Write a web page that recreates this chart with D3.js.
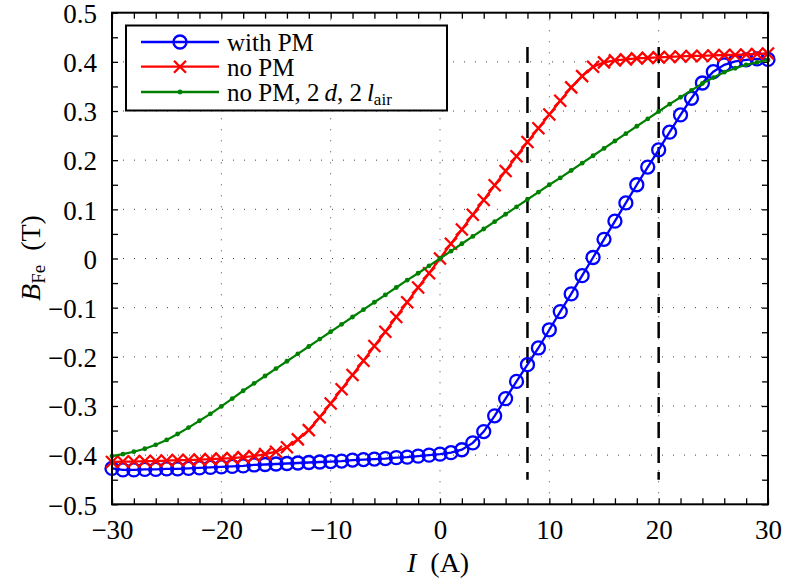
<!DOCTYPE html>
<html>
<head>
<meta charset="utf-8">
<script src="https://cdn.jsdelivr.net/npm/d3@7"></script>
<style>
  html, body { margin: 0; padding: 0; background: #fff; }
  svg { display: block; }
  svg text { font-family: "Liberation Serif", "DejaVu Serif", serif; fill: #000; }
</style>
</head>
<body>
<svg id="chart" width="785" height="587"></svg>
<script>
// ---------------- data ----------------
const current = d3.range(-30, 31, 1); // I (A), step 1
const withPM = [
  -0.427, -0.430, -0.430, -0.429, -0.429, -0.428, -0.428, -0.427, -0.426, -0.425,
  -0.424, -0.423, -0.422, -0.420, -0.419, -0.418, -0.417, -0.416, -0.415, -0.414,
  -0.413, -0.412, -0.410, -0.409, -0.408, -0.407, -0.405, -0.404, -0.402, -0.400,
  -0.398, -0.395, -0.389, -0.375, -0.352, -0.320, -0.285, -0.250, -0.216, -0.182,
  -0.145, -0.108, -0.072, -0.035, 0.002, 0.039, 0.076, 0.113, 0.150, 0.186,
  0.221, 0.257, 0.292, 0.326, 0.357, 0.380, 0.394, 0.401, 0.404, 0.406, 0.405
];
const noPM = [
  -0.414, -0.413, -0.413, -0.412, -0.412, -0.411, -0.410, -0.410, -0.409, -0.408,
  -0.407, -0.406, -0.404, -0.402, -0.398, -0.393, -0.384, -0.368, -0.349, -0.323,
  -0.295, -0.266, -0.237, -0.208, -0.178, -0.149, -0.119, -0.089, -0.059, -0.030,
  0.000, 0.030, 0.059, 0.089, 0.119, 0.149, 0.178, 0.208, 0.237, 0.265, 0.293,
  0.321, 0.348, 0.371, 0.390, 0.399, 0.403, 0.405, 0.407, 0.408, 0.409,
  0.410, 0.411, 0.412, 0.412, 0.413, 0.414, 0.414, 0.415, 0.416, 0.417
];
const noPM2d = [
  -0.402, -0.398, -0.393, -0.387, -0.379, -0.369, -0.357, -0.344, -0.330, -0.316,
  -0.301, -0.285, -0.269, -0.254, -0.239, -0.224, -0.209, -0.194, -0.179, -0.164,
  -0.149, -0.134, -0.119, -0.104, -0.089, -0.074, -0.059, -0.044, -0.030, -0.015,
  0.000, 0.015, 0.030, 0.045, 0.060, 0.075, 0.090, 0.105, 0.120, 0.135, 0.150,
  0.164, 0.179, 0.194, 0.209, 0.224, 0.239, 0.254, 0.269, 0.284, 0.299,
  0.314, 0.328, 0.342, 0.356, 0.368, 0.379, 0.387, 0.394, 0.399, 0.404
];
const dashLinesX = [8, 20];
const dashRange = [-0.45, 0.43];
const xTicks = [-30, -20, -10, 0, 10, 20, 30];
const xTickLabels = ["\u221230", "\u221220", "\u221210", "0", "10", "20", "30"];
const xMinorTicks = d3.range(-30, 31, 2);
const yTicks = [-0.5, -0.4, -0.3, -0.2, -0.1, 0, 0.1, 0.2, 0.3, 0.4, 0.5];
const yTickLabels = ["\u22120.5", "\u22120.4", "\u22120.3", "\u22120.2", "\u22120.1", "0", "0.1", "0.2", "0.3", "0.4", "0.5"];
const yMinorTicks = d3.range(-10, 11, 1).map(d => d * 0.05);
const seriesNames = ["with PM", "no PM", "no PM, 2 d, 2 l_air"];

// ---------------- layout ----------------
const svg = d3.select("#chart");
const L = 112, R = 768, T = 12.7, B = 504.3;
const x = d3.scaleLinear().domain([-30, 30]).range([L, R]);
const y = d3.scaleLinear().domain([-0.5, 0.5]).range([B, T]);
const FS = 27;

// grid
const grid = svg.append("g").attr("stroke", "#444").attr("stroke-width", 1)
  .attr("stroke-dasharray", "1,10");
grid.selectAll("line.v").data(xTicks.slice(1, -1)).join("line")
  .attr("x1", d => x(d)).attr("x2", d => x(d)).attr("y1", B).attr("y2", T);
grid.selectAll("line.h").data(yTicks.slice(1, -1)).join("line")
  .attr("class", "h")
  .attr("y1", d => y(d)).attr("y2", d => y(d)).attr("x1", L).attr("x2", R);

// dashed vertical lines
svg.append("g").selectAll("line").data(dashLinesX).join("line")
  .attr("x1", d => x(d)).attr("x2", d => x(d))
  .attr("y1", y(dashRange[1])).attr("y2", y(dashRange[0]))
  .attr("stroke", "#000").attr("stroke-width", 2.5)
  .attr("stroke-dasharray", "16,9");

// axes ticks (inward, all four sides)
function tickAxis(gen, tr) {
  const g = svg.append("g").attr("transform", tr).call(gen);
  g.select(".domain").remove();
  g.selectAll("line").attr("stroke", "#000").attr("stroke-width", 1.3);
  return g;
}
tickAxis(d3.axisBottom(x).tickValues(xMinorTicks).tickSize(-6).tickFormat(""), `translate(0,${B})`);
tickAxis(d3.axisTop(x).tickValues(xMinorTicks).tickSize(-6).tickFormat(""), `translate(0,${T})`);
tickAxis(d3.axisLeft(y).tickValues(yMinorTicks).tickSize(-6).tickFormat(""), `translate(${L},0)`);
tickAxis(d3.axisRight(y).tickValues(yMinorTicks).tickSize(-6).tickFormat(""), `translate(${R},0)`);

// tick labels
const xl = svg.append("g").attr("transform", `translate(0,${B})`)
  .call(d3.axisBottom(x).tickValues(xTicks).tickSize(0).tickPadding(16)
    .tickFormat((d, i) => xTickLabels[i]));
xl.select(".domain").remove();
xl.attr("font-family", null).attr("font-size", null);
xl.selectAll("text").attr("font-size", FS);
const yl = svg.append("g").attr("transform", `translate(${L},0)`)
  .call(d3.axisLeft(y).tickValues(yTicks).tickSize(0).tickPadding(15)
    .tickFormat((d, i) => yTickLabels[i]));
yl.select(".domain").remove();
yl.attr("font-family", null).attr("font-size", null);
yl.selectAll("text").attr("font-size", FS).attr("dy", "0.36em");

// series
const pts = arr => current.map((c, i) => [c, arr[i]]);
const line = d3.line().x(d => x(d[0])).y(d => y(d[1]));
const plot = svg.append("g");

// with PM (blue circles)
plot.append("path").datum(pts(withPM)).attr("d", line)
  .attr("fill", "none").attr("stroke", "#0000ff").attr("stroke-width", 2.3);
plot.append("g").selectAll("circle").data(pts(withPM)).join("circle")
  .attr("cx", d => x(d[0])).attr("cy", d => y(d[1])).attr("r", 6.5)
  .attr("fill", "none").attr("stroke", "#0000ff").attr("stroke-width", 2.3);

// no PM (red x)
plot.append("path").datum(pts(noPM)).attr("d", line)
  .attr("fill", "none").attr("stroke", "#ff0000").attr("stroke-width", 2.3);
const xm = 6;
plot.append("g").selectAll("path").data(pts(noPM)).join("path")
  .attr("d", d => {
    const cx = x(d[0]), cy = y(d[1]);
    return `M${cx - xm},${cy - xm}L${cx + xm},${cy + xm}M${cx - xm},${cy + xm}L${cx + xm},${cy - xm}`;
  })
  .attr("stroke", "#ff0000").attr("stroke-width", 2.3).attr("fill", "none");

// no PM, 2d, 2l_air (green dots)
plot.append("path").datum(pts(noPM2d)).attr("d", line)
  .attr("fill", "none").attr("stroke", "#008000").attr("stroke-width", 2.2);
plot.append("g").selectAll("circle").data(pts(noPM2d)).join("circle")
  .attr("cx", d => x(d[0])).attr("cy", d => y(d[1])).attr("r", 2.4)
  .attr("fill", "#008000");

// frame
svg.append("rect").attr("x", L).attr("y", T).attr("width", R - L).attr("height", B - T)
  .attr("fill", "none").attr("stroke", "#000").attr("stroke-width", 2);

// legend
const lg = svg.append("g");
lg.append("rect").attr("x", 126).attr("y", 25.5).attr("width", 321).attr("height", 85)
  .attr("fill", "#fff").attr("stroke", "#000").attr("stroke-width", 2);
const rowsY = [42, 66.7, 92];
const colors = ["#0000ff", "#ff0000", "#008000"];
rowsY.forEach((ry, i) => {
  lg.append("line").attr("x1", 141).attr("x2", 219).attr("y1", ry).attr("y2", ry)
    .attr("stroke", colors[i]).attr("stroke-width", 2.3);
});
lg.append("circle").attr("cx", 180).attr("cy", rowsY[0]).attr("r", 6.5)
  .attr("fill", "none").attr("stroke", colors[0]).attr("stroke-width", 2.3);
lg.append("path").attr("d", `M${180 - xm},${rowsY[1] - xm}L${180 + xm},${rowsY[1] + xm}M${180 - xm},${rowsY[1] + xm}L${180 + xm},${rowsY[1] - xm}`)
  .attr("stroke", colors[1]).attr("stroke-width", 2.3);
lg.append("circle").attr("cx", 180).attr("cy", rowsY[2]).attr("r", 2.4).attr("fill", colors[2]);

const LFS = 25;
lg.append("text").attr("x", 227).attr("y", rowsY[0] + 9).attr("font-size", LFS).text(seriesNames[0]);
lg.append("text").attr("x", 227).attr("y", rowsY[1] + 9).attr("font-size", LFS).text(seriesNames[1]);
const t3 = lg.append("text").attr("x", 227).attr("y", rowsY[2] + 9).attr("font-size", LFS);
t3.append("tspan").text("no PM, 2\u2009");
t3.append("tspan").attr("font-style", "italic").text("d");
t3.append("tspan").text(", 2\u2009");
t3.append("tspan").attr("font-style", "italic").text("l");
t3.append("tspan").attr("font-size", 17).attr("dy", 4).text("air");

// axis titles
const xt = svg.append("text").attr("x", 407).attr("y", 572).attr("font-size", FS + 1);
xt.append("tspan").attr("font-style", "italic").text("I");
xt.append("tspan").text("\u2002(A)");

const yt = svg.append("text").attr("transform", `translate(40,258) rotate(-90)`)
  .attr("text-anchor", "middle").attr("font-size", FS + 1);
yt.append("tspan").attr("font-style", "italic").text("B");
yt.append("tspan").attr("font-size", 19).attr("dy", 5).text("Fe");
yt.append("tspan").attr("dy", -5).text("\u2002(T)");
</script>
</body>
</html>
